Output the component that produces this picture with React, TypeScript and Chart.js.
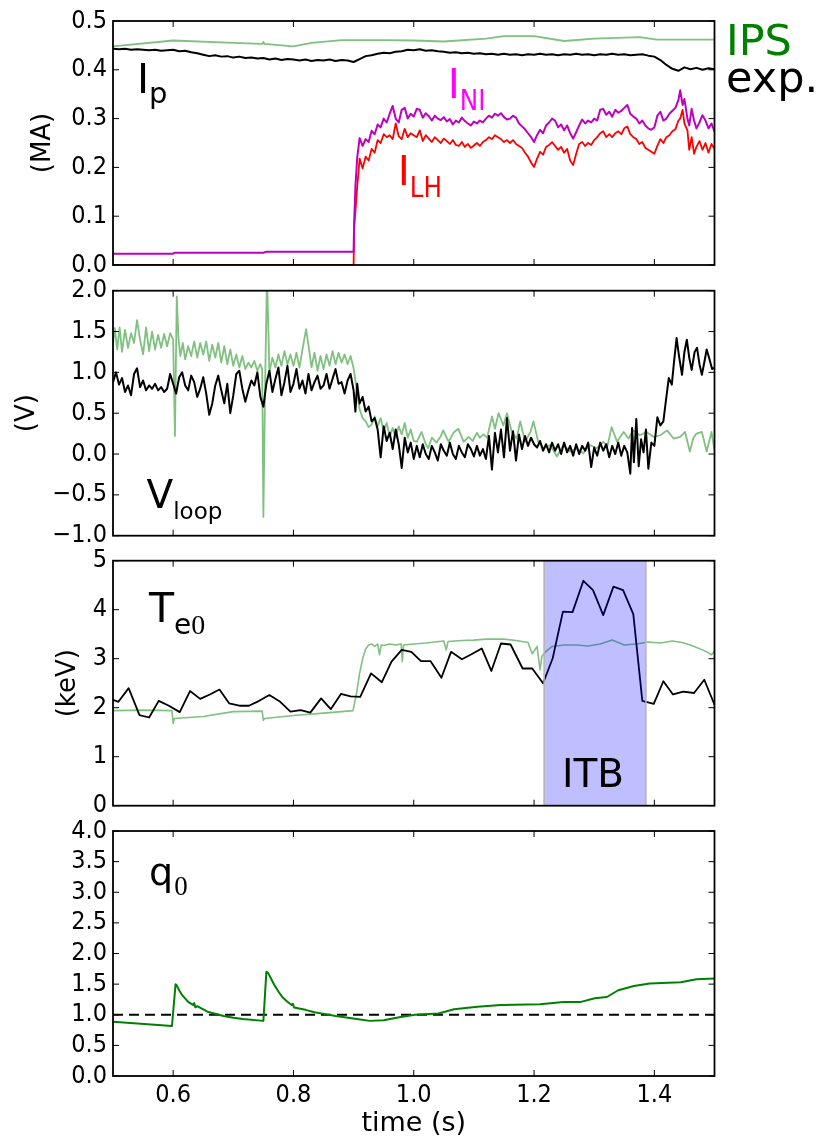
import React, { useEffect, useRef } from "react";
import { Chart, registerables } from "chart.js";

Chart.register(...registerables);

// ---------------- data ----------------
const xTickValues = [0.6, 0.8, 1.0, 1.2, 1.4];
const xTickLabels = ["0.6", "0.8", "1.0", "1.2", "1.4"];

// panel 1 : currents (MA)
const ipYTicks = [0, 0.1, 0.2, 0.3, 0.4, 0.5];
const ipYLabels = ["0.0", "0.1", "0.2", "0.3", "0.4", "0.5"];

const ipsIpTime = [0.5, 0.6, 0.7, 0.748, 0.75, 0.752, 0.8, 0.83, 0.88, 0.95, 1.0, 1.05, 1.12, 1.15, 1.2, 1.25, 1.3, 1.376, 1.404, 1.5];
const ipsIpValues = [0.448, 0.46, 0.455, 0.453, 0.457, 0.453, 0.448, 0.455, 0.461, 0.461, 0.46, 0.458, 0.464, 0.469, 0.469, 0.459, 0.464, 0.467, 0.462, 0.462];

const expIpTime = [
  0.50, 0.51, 0.52, 0.53, 0.54, 0.55, 0.56, 0.57, 0.58, 0.59,
  0.60, 0.61, 0.62, 0.63, 0.64, 0.65, 0.66, 0.67, 0.68, 0.69,
  0.70, 0.71, 0.72, 0.73, 0.74, 0.75, 0.76, 0.77, 0.78, 0.79,
  0.80, 0.81, 0.82, 0.83, 0.84, 0.85, 0.86, 0.87, 0.88, 0.89,
  0.90, 0.91, 0.92, 0.93, 0.94, 0.95, 0.96, 0.97, 0.98, 0.99,
  1.00, 1.01, 1.02, 1.03, 1.04, 1.05, 1.06, 1.07, 1.08, 1.09,
  1.10, 1.11, 1.12, 1.13, 1.14, 1.15, 1.16, 1.17, 1.18, 1.19,
  1.20, 1.21, 1.22, 1.23, 1.24, 1.25, 1.26, 1.27, 1.28, 1.29,
  1.30, 1.31, 1.32, 1.33, 1.34, 1.35, 1.36, 1.37, 1.38, 1.39,
  1.40, 1.41, 1.42, 1.43, 1.44, 1.45, 1.46, 1.47, 1.48, 1.49,
  1.50,
];
const expIpValues = [
  0.443, 0.442, 0.443, 0.441, 0.442, 0.441, 0.440, 0.441, 0.439, 0.440,
  0.441, 0.438, 0.439, 0.436, 0.434, 0.431, 0.428, 0.430, 0.427, 0.428,
  0.425, 0.427, 0.424, 0.425, 0.423, 0.424, 0.421, 0.423, 0.420, 0.422,
  0.421, 0.419, 0.421, 0.418, 0.420, 0.419, 0.421, 0.418, 0.420, 0.419,
  0.416, 0.422, 0.428, 0.430, 0.433, 0.435, 0.434, 0.437, 0.438, 0.441,
  0.440, 0.442, 0.439, 0.440, 0.438, 0.437, 0.435, 0.436, 0.434, 0.435,
  0.433, 0.434, 0.432, 0.433, 0.431, 0.433, 0.431, 0.432, 0.430, 0.432,
  0.431, 0.433, 0.431, 0.432, 0.430, 0.432, 0.431, 0.433, 0.431, 0.432,
  0.430, 0.432, 0.431, 0.433, 0.431, 0.432, 0.430, 0.431, 0.432, 0.429,
  0.427, 0.420, 0.410, 0.402, 0.398, 0.405, 0.401, 0.404, 0.400, 0.403,
  0.401,
];

const niPreTime = [0.5, 0.6, 0.602, 0.75, 0.755, 0.899];
const niPreValues = [0.023, 0.023, 0.025, 0.025, 0.027, 0.027];
const lhPreTime = [0.5, 0.899];
const lhPreValues = [0.0, 0.0];

const cdTime = [
  0.900, 0.901, 0.903, 0.906, 0.910,
  0.915, 0.920, 0.925, 0.930, 0.935, 0.940, 0.945, 0.950, 0.955, 0.960,
  0.965, 0.970, 0.975, 0.980, 0.985, 0.990, 0.995, 1.000, 1.005, 1.010,
  1.015, 1.020, 1.025, 1.030, 1.035, 1.040, 1.045, 1.050, 1.055, 1.060,
  1.065, 1.070, 1.075, 1.080, 1.085, 1.090, 1.095, 1.100, 1.105, 1.110,
  1.115, 1.120, 1.125, 1.130, 1.135, 1.140, 1.145, 1.150, 1.155, 1.160,
  1.165, 1.170, 1.175, 1.180, 1.185, 1.190, 1.195, 1.200, 1.205, 1.210,
  1.215, 1.220, 1.225, 1.230, 1.235, 1.240, 1.245, 1.250, 1.255, 1.260,
  1.265, 1.270, 1.275, 1.280, 1.285, 1.290, 1.295, 1.300, 1.305, 1.310,
  1.315, 1.320, 1.325, 1.330, 1.335, 1.340, 1.345, 1.350, 1.355, 1.360,
  1.365, 1.370, 1.375, 1.380, 1.385, 1.390, 1.395, 1.400, 1.405, 1.410,
  1.415, 1.420, 1.425, 1.430, 1.435,
  1.440, 1.443, 1.447, 1.450, 1.455, 1.458, 1.462, 1.466, 1.470, 1.475,
  1.480, 1.485, 1.490, 1.495, 1.500,
];
const niValues = [
  0.027, 0.09, 0.16, 0.22, 0.26,
  0.244, 0.258, 0.252, 0.275, 0.268, 0.288, 0.282, 0.300, 0.292, 0.310,
  0.326, 0.300, 0.292, 0.318, 0.322, 0.300, 0.310, 0.304, 0.320, 0.318,
  0.302, 0.311, 0.305, 0.296, 0.306, 0.300, 0.297, 0.303, 0.294, 0.299,
  0.288, 0.296, 0.292, 0.302, 0.295, 0.290, 0.286, 0.294, 0.290, 0.296,
  0.292, 0.300, 0.306, 0.302, 0.310, 0.306, 0.311, 0.303, 0.298, 0.300,
  0.306, 0.302, 0.290, 0.284, 0.278, 0.270, 0.262, 0.252, 0.266, 0.277,
  0.270, 0.286, 0.292, 0.300, 0.296, 0.282, 0.288, 0.276, 0.286, 0.270,
  0.259, 0.272, 0.286, 0.298, 0.290, 0.296, 0.292, 0.300, 0.296, 0.318,
  0.320, 0.308, 0.314, 0.304, 0.318, 0.312, 0.316, 0.322, 0.328, 0.310,
  0.304, 0.300, 0.290, 0.296, 0.286, 0.280, 0.277, 0.282, 0.306, 0.314,
  0.296, 0.300, 0.310, 0.316, 0.322,
  0.338, 0.358, 0.328, 0.340, 0.300, 0.286, 0.320, 0.296, 0.280, 0.292,
  0.307, 0.296, 0.280, 0.290, 0.274,
];
const lhValues = [
  0.0, 0.08, 0.11, 0.16, 0.218,
  0.198, 0.222, 0.214, 0.238, 0.230, 0.256, 0.250, 0.268, 0.262, 0.266,
  0.258, 0.290, 0.264, 0.258, 0.279, 0.262, 0.270, 0.266, 0.262, 0.276,
  0.254, 0.266, 0.259, 0.252, 0.262, 0.256, 0.250, 0.259, 0.254, 0.248,
  0.256, 0.246, 0.244, 0.252, 0.242, 0.248, 0.240, 0.245, 0.250, 0.244,
  0.252, 0.256, 0.262, 0.258, 0.266, 0.262, 0.258, 0.252, 0.256, 0.250,
  0.256, 0.248, 0.244, 0.240, 0.230, 0.222, 0.210, 0.201, 0.218, 0.232,
  0.226, 0.242, 0.246, 0.252, 0.244, 0.236, 0.242, 0.230, 0.238, 0.214,
  0.205, 0.228, 0.248, 0.252, 0.244, 0.250, 0.246, 0.256, 0.262, 0.270,
  0.274, 0.262, 0.268, 0.262, 0.270, 0.274, 0.268, 0.280, 0.284, 0.268,
  0.262, 0.258, 0.248, 0.252, 0.240, 0.236, 0.232, 0.228, 0.244, 0.258,
  0.250, 0.262, 0.266, 0.274, 0.278,
  0.296, 0.300, 0.318, 0.290, 0.276, 0.236, 0.262, 0.228, 0.242, 0.254,
  0.236, 0.250, 0.230, 0.248, 0.238,
];

// panel 2 : loop voltage (V)
const vYTicks = [-1, -0.5, 0, 0.5, 1, 1.5, 2];
const vYLabels = ["\u22121.0", "\u22120.5", "0.0", "0.5", "1.0", "1.5", "2.0"];

const expVTime = [
  0.500, 0.505, 0.510, 0.515, 0.520, 0.525, 0.530, 0.535, 0.540, 0.545,
  0.550, 0.555, 0.560, 0.565, 0.570, 0.575, 0.580, 0.585, 0.590, 0.595,
  0.600, 0.605, 0.610, 0.615, 0.620, 0.625, 0.630, 0.635, 0.640, 0.645,
  0.650, 0.655, 0.660, 0.665, 0.670, 0.675, 0.680, 0.685, 0.690, 0.695,
  0.700, 0.705, 0.710, 0.715, 0.720, 0.725, 0.730, 0.735, 0.740, 0.745,
  0.750, 0.755, 0.760, 0.765, 0.770, 0.775, 0.780, 0.785, 0.790, 0.795,
  0.800, 0.805, 0.810, 0.815, 0.820, 0.825, 0.830, 0.835, 0.840, 0.845,
  0.850, 0.855, 0.860, 0.865, 0.870, 0.875, 0.880, 0.885, 0.890, 0.895,
  0.900, 0.903, 0.906, 0.910, 0.915, 0.920, 0.925, 0.930, 0.935, 0.940,
  0.945, 0.950, 0.955, 0.960, 0.965, 0.970, 0.975, 0.980, 0.985, 0.990,
  0.995, 1.000, 1.005, 1.010, 1.015, 1.020, 1.025, 1.030, 1.035, 1.040,
  1.045, 1.050, 1.055, 1.060, 1.065, 1.070, 1.075, 1.080, 1.085, 1.090,
  1.095, 1.100, 1.105, 1.110, 1.115, 1.120, 1.125, 1.130, 1.135, 1.140,
  1.145, 1.150, 1.155, 1.160, 1.165, 1.170, 1.175, 1.180, 1.185, 1.190,
  1.195, 1.200, 1.205, 1.210, 1.215, 1.220, 1.225, 1.230, 1.235, 1.240,
  1.245, 1.250, 1.255, 1.260, 1.265, 1.270, 1.275, 1.280, 1.285, 1.290,
  1.295, 1.300, 1.305, 1.310, 1.315, 1.320, 1.325, 1.330, 1.335, 1.340,
  1.345, 1.350, 1.355, 1.360, 1.363, 1.366, 1.370, 1.374, 1.378, 1.382,
  1.386, 1.390, 1.395, 1.400, 1.405, 1.410, 1.415, 1.420, 1.424, 1.429,
  1.433, 1.437, 1.441, 1.446, 1.450, 1.454, 1.458, 1.462, 1.467, 1.471,
  1.475, 1.479, 1.483, 1.487, 1.491, 1.496, 1.500,
];
const expVValues = [
  0.88, 1.00, 0.85, 0.93, 0.76, 0.84, 0.72, 0.98, 1.05, 0.82,
  0.90, 0.78, 0.84, 0.80, 0.86, 0.78, 0.82, 0.76, 0.80, 0.98,
  0.86, 0.74, 0.94, 1.00, 0.84, 0.78, 0.96, 0.88, 0.70, 0.80,
  0.94, 0.74, 0.48, 0.62, 0.84, 0.96, 0.78, 0.62, 0.86, 0.50,
  0.72, 0.98, 1.02, 0.80, 0.64, 0.78, 0.90, 0.84, 1.00, 0.70,
  0.58, 0.86, 1.02, 0.76, 0.92, 1.06, 0.72, 0.88, 1.08, 0.76,
  0.86, 1.04, 0.80, 0.90, 0.74, 0.98, 0.78, 0.88, 0.96, 0.80,
  0.84, 0.98, 0.80, 0.92, 1.04, 0.86, 0.88, 0.74, 0.90, 0.98,
  0.78, 0.52, 0.86, 0.62, 0.70, 0.52, 0.58, 0.40, 0.44, 0.30,
  -0.04, 0.34, 0.16, 0.26, 0.06, 0.30, 0.12, -0.17, 0.20, 0.02,
  0.14, -0.06, 0.10, -0.04, 0.12, 0.00, -0.06, 0.10, 0.02, -0.08,
  0.12, 0.04, -0.02, 0.14, 0.00, -0.06, 0.10, 0.02, -0.04, 0.12,
  0.06, -0.03, 0.10, -0.02, 0.06, -0.06, 0.22, -0.19, 0.26, 0.02,
  0.30, -0.04, 0.44, 0.04, 0.28, -0.08, 0.24, 0.06, 0.22, 0.10,
  0.20, 0.12, 0.08, 0.16, 0.04, 0.12, 0.02, 0.14, 0.04, 0.12,
  0.00, 0.14, 0.02, 0.10, -0.02, 0.12, 0.00, 0.10, 0.04, 0.14,
  -0.16, 0.08, -0.02, 0.14, 0.04, 0.12, -0.04, 0.10, 0.00, 0.14,
  -0.02, 0.10, 0.02, -0.24, 0.32, -0.10, 0.43, -0.15, 0.18, 0.02,
  0.30, -0.18, 0.14, 0.10, 0.45, 0.35, 0.40, 0.70, 0.93, 0.85,
  1.15, 1.42, 1.20, 0.97, 1.25, 1.40, 1.18, 1.03, 1.25, 1.30,
  1.10, 0.97, 1.12, 1.28, 1.18, 1.04, 1.06,
];

const ipsVTime = [
  0.500, 0.503, 0.507, 0.511, 0.515, 0.520, 0.525, 0.530, 0.535, 0.540,
  0.545, 0.550, 0.555, 0.560, 0.565, 0.570, 0.575, 0.580, 0.585, 0.590,
  0.595, 0.600, 0.603, 0.606, 0.609, 0.612, 0.616, 0.620, 0.625, 0.630,
  0.635, 0.640, 0.645, 0.650, 0.655, 0.660, 0.665, 0.670, 0.675, 0.680,
  0.685, 0.690, 0.695, 0.700, 0.705, 0.710, 0.715, 0.720, 0.725, 0.730,
  0.735, 0.740, 0.745, 0.748, 0.750, 0.753, 0.756, 0.760, 0.765, 0.770,
  0.775, 0.780, 0.785, 0.790, 0.795, 0.800, 0.805, 0.810, 0.815, 0.821,
  0.826, 0.830, 0.835, 0.840, 0.845, 0.850, 0.855, 0.860, 0.865, 0.870,
  0.875, 0.880, 0.885, 0.890, 0.895, 0.900, 0.905, 0.910, 0.915, 0.920,
  0.925, 0.930, 0.935, 0.940, 0.945, 0.950, 0.955, 0.960, 0.965, 0.970,
  0.975, 0.980, 0.985, 0.990, 0.995, 1.000, 1.005, 1.013, 1.020, 1.024,
  1.030, 1.038, 1.045, 1.049, 1.058, 1.066, 1.074, 1.083, 1.091, 1.098,
  1.105, 1.110, 1.116, 1.122, 1.130, 1.135, 1.141, 1.149, 1.155, 1.163,
  1.171, 1.177, 1.185, 1.194, 1.199, 1.207, 1.216, 1.227, 1.238, 1.249,
  1.260, 1.271, 1.282, 1.293, 1.304, 1.315, 1.322, 1.329, 1.338, 1.349,
  1.357, 1.365, 1.376, 1.387, 1.399, 1.410, 1.421, 1.432, 1.443, 1.451,
  1.459, 1.465, 1.470, 1.479, 1.487, 1.495, 1.500,
];
const ipsVValues = [
  1.35, 1.54, 1.28, 1.55, 1.25, 1.52, 1.30, 1.48, 1.36, 1.64,
  1.40, 1.22, 1.55, 1.26, 1.50, 1.28, 1.46, 1.30, 1.47, 1.32,
  1.48, 1.40, 0.22, 1.93, 1.40, 1.20, 1.36, 1.16, 1.32, 1.20,
  1.38, 1.18, 1.36, 1.22, 1.38, 1.14, 1.34, 1.18, 1.36, 1.12,
  1.32, 1.10, 1.28, 1.08, 1.22, 1.06, 1.20, 1.04, 1.12, 1.06,
  1.14, 1.02, 1.10, 1.04, -0.77, 0.90, 2.20, 1.00, 1.18, 1.06,
  1.22, 1.08, 1.26, 1.10, 1.22, 1.08, 1.24, 1.06, 1.28, 1.53,
  1.28, 1.06, 1.24, 1.02, 1.20, 1.04, 1.22, 1.08, 1.26, 1.10,
  1.24, 1.12, 1.22, 1.10, 1.20, 1.05, 0.80, 0.55, 0.44, 0.40,
  0.33, 0.36, 0.46, 0.34, 0.44, 0.28, 0.38, 0.22, 0.32, 0.20,
  0.34, 0.24, 0.38, 0.20, 0.30, 0.16, 0.15, 0.27, 0.12, 0.07,
  0.20, 0.14, 0.22, 0.29, 0.15, 0.26, 0.31, 0.15, 0.21, 0.16,
  0.26, 0.20, 0.24, 0.20, 0.46, 0.31, 0.50, 0.35, 0.50, 0.27,
  0.19, 0.40, 0.15, 0.27, 0.40, 0.15, 0.07, 0.11, -0.03, 0.11,
  0.03, 0.07, 0.01, 0.11, 0.07, 0.15, 0.10, 0.33, 0.15, 0.27,
  0.19, 0.29, 0.23, 0.27, 0.21, 0.23, 0.29, 0.19, 0.21, 0.27,
  0.03, 0.20, 0.25, 0.27, 0.03, 0.27, 0.05,
];

// panel 3 : central electron temperature (keV)
const teYTicks = [0, 1, 2, 3, 4, 5];
const teYLabels = ["0", "1", "2", "3", "4", "5"];

const expTeTime = [
  0.500, 0.509, 0.526, 0.544, 0.560, 0.576, 0.593, 0.611, 0.628, 0.645,
  0.661, 0.677, 0.693, 0.710, 0.726, 0.743, 0.760, 0.778, 0.795, 0.812,
  0.828, 0.846, 0.862, 0.879, 0.895, 0.911, 0.929, 0.947, 0.963, 0.980,
  0.996, 1.012, 1.028, 1.046, 1.062, 1.080, 1.096, 1.113, 1.129, 1.145,
  1.161, 1.181, 1.197, 1.215, 1.231, 1.248, 1.264, 1.282, 1.298, 1.315,
  1.332, 1.348, 1.365, 1.380, 1.399, 1.415, 1.431, 1.448, 1.466, 1.483,
  1.500,
];
const expTeValues = [
  2.16, 2.12, 2.40, 1.85, 1.80, 2.14, 2.04, 1.91, 2.34, 2.18,
  2.27, 2.37, 2.09, 2.04, 2.04, 2.14, 2.26, 2.12, 1.92, 1.95,
  1.90, 2.19, 1.97, 2.28, 2.23, 2.22, 2.70, 2.52, 2.94, 3.18,
  3.14, 2.95, 2.95, 2.61, 3.14, 2.99, 3.09, 3.21, 2.75, 3.31,
  3.29, 2.80, 2.80, 2.50, 3.01, 3.96, 3.95, 4.59, 4.40, 3.89,
  4.47, 4.40, 3.91, 2.14, 2.08, 2.54, 2.27, 2.33, 2.30, 2.57,
  2.06,
];

const ipsTeTime = [
  0.500, 0.550, 0.598, 0.600, 0.602, 0.650, 0.700, 0.748, 0.750, 0.752,
  0.800, 0.850, 0.899, 0.905, 0.910, 0.915, 0.920, 0.925, 0.930, 0.935,
  0.940, 0.943, 0.946, 0.950, 0.960, 0.970, 0.979, 0.981, 0.983, 1.000,
  1.020, 1.050, 1.054, 1.057, 1.080, 1.100, 1.120, 1.150, 1.170, 1.190,
  1.197, 1.205, 1.210, 1.213, 1.220, 1.230, 1.250, 1.270, 1.290, 1.310,
  1.330, 1.350, 1.370, 1.390, 1.410, 1.430, 1.446, 1.460, 1.480, 1.490,
  1.495, 1.500,
];
const ipsTeValues = [
  1.94, 1.95, 1.94, 1.68, 1.78, 1.82, 1.92, 1.93, 1.74, 1.78,
  1.84, 1.89, 1.94, 2.30, 2.70, 3.00, 3.20, 3.28, 3.30, 3.25,
  3.30, 3.08, 3.28, 3.27, 3.30, 3.28, 3.30, 2.94, 3.28, 3.30,
  3.32, 3.36, 3.18, 3.35, 3.37, 3.38, 3.40, 3.40, 3.37, 3.33,
  3.10, 3.25, 2.77, 3.05, 3.15, 3.25, 3.28, 3.28, 3.26, 3.30,
  3.38, 3.28, 3.30, 3.34, 3.32, 3.36, 3.33, 3.28, 3.18, 3.12,
  3.08, 3.15,
];
const itbStart = 1.2167;
const itbEnd = 1.386;

// panel 4 : central safety factor
const qYTicks = [0, 0.5, 1, 1.5, 2, 2.5, 3, 3.5, 4];
const qYLabels = ["0.0", "0.5", "1.0", "1.5", "2.0", "2.5", "3.0", "3.5", "4.0"];

const q0Time = [
  0.500, 0.598, 0.604, 0.606, 0.610, 0.615, 0.625, 0.633, 0.635, 0.637,
  0.640, 0.657, 0.684, 0.700, 0.716, 0.750, 0.755, 0.758, 0.768, 0.775,
  0.781, 0.789, 0.797, 0.799, 0.801, 0.820, 0.835, 0.853, 0.870, 0.885,
  0.905, 0.927, 0.950, 0.976, 1.002, 1.041, 1.067, 1.106, 1.145, 1.210,
  1.249, 1.278, 1.301, 1.321, 1.340, 1.366, 1.392, 1.444, 1.470, 1.500,
];
const q0Values = [
  0.887, 0.816, 1.497, 1.48, 1.40, 1.32, 1.21, 1.16, 1.19, 1.12,
  1.14, 1.05, 0.98, 0.95, 0.93, 0.90, 1.70, 1.68, 1.49, 1.38,
  1.295, 1.22, 1.16, 1.18, 1.12, 1.08, 1.04, 1.01, 0.98, 0.96,
  0.93, 0.90, 0.91, 0.96, 1.00, 1.02, 1.09, 1.13, 1.16, 1.17,
  1.21, 1.21, 1.27, 1.29, 1.40, 1.47, 1.51, 1.53, 1.58, 1.59,
];
const qRefTime = [0.5, 1.5];
const qRefValues = [1, 1];

// ---------------- layout / style ----------------
const W = 818;
const H = 1137;
const PLOT_LEFT = 113;
const PLOT_RIGHT = 714.5;
const FONT = "DejaVu Sans";
const TICK_FONT = "'DejaVu Sans Condensed', 'DejaVu Sans'";
const SERIF = "Liberation Serif";
const IPS_LIGHT = "#80c080";

type Part = { text: string; font: string; dy?: number; dx?: number; scaleX?: number };
type Label = { x: number; y: number; color: string; parts: Part[] };

const pts = (t: number[], v: number[]) => t.map((x, i) => ({ x, y: v[i] }));

const line = (data: any[], color: string, width: number, extra: any = {}) => ({
  data,
  borderColor: color,
  backgroundColor: color,
  borderWidth: width,
  pointRadius: 0,
  fill: false,
  tension: 0,
  borderJoinStyle: "round",
  ...extra,
});

type PanelSpec = {
  top: number;
  bottom: number;
  yMin: number;
  yMax: number;
  yTicks: number[];
  yLabels: string[];
  yTitle?: string;
  yTitleX?: number;
  showX: boolean;
  datasets: any[];
  labels: Label[];
  band?: [number, number];
};

const big = (s: number) => `${s}px ${FONT}`;

const panels: PanelSpec[] = [
  {
    top: 20.7,
    bottom: 265,
    yMin: 0,
    yMax: 0.5,
    yTicks: ipYTicks,
    yLabels: ipYLabels,
    yTitle: "(MA)",
    yTitleX: 43,
    showX: false,
    datasets: [
      line(pts(expIpTime, expIpValues), "#000000", 2),
      line([...pts(niPreTime, niPreValues), ...pts(cdTime, niValues)], "#bf00bf", 2),
      line([...pts(lhPreTime, lhPreValues), ...pts(cdTime, lhValues)], "#ff0000", 1.8),
      line(pts(ipsIpTime, ipsIpValues), IPS_LIGHT, 1.8),
    ],
    labels: [
      { x: 0.5399, y: 0.3517, color: "#000", parts: [{ text: "I", font: big(41) }, { text: "p", font: big(29), dy: 10 }] },
      { x: 1.0565, y: 0.3415, color: "#ff00ff", parts: [{ text: "I", font: big(41) }, { text: "NI", font: big(29), dy: 12, scaleX: 0.85 }] },
      { x: 0.9733, y: 0.1636, color: "#ff0000", parts: [{ text: "I", font: big(41) }, { text: "LH", font: big(29), dy: 12, scaleX: 0.85 }] },
      { x: 1.5191, y: 0.4294, color: "#008000", parts: [{ text: "IPS", font: big(43) }] },
      { x: 1.5191, y: 0.3544, color: "#000", parts: [{ text: "exp.", font: big(43) }] },
    ],
  },
  {
    top: 290.7,
    bottom: 535.7,
    yMin: -1,
    yMax: 2,
    yTicks: vYTicks,
    yLabels: vYLabels,
    yTitle: "(V)",
    yTitleX: 27,
    showX: false,
    datasets: [
      line(pts(expVTime, expVValues), "#000000", 2),
      line(pts(ipsVTime, ipsVValues), IPS_LIGHT, 1.8),
    ],
    labels: [
      { x: 0.5557, y: -0.66, color: "#000", parts: [{ text: "V", font: big(39) }, { text: "loop", font: big(23), dy: 11 }] },
    ],
  },
  {
    top: 560.7,
    bottom: 805.7,
    yMin: 0,
    yMax: 5,
    yTicks: teYTicks,
    yLabels: teYLabels,
    yTitle: "(keV)",
    yTitleX: 68,
    showX: false,
    datasets: [
      line(pts(expTeTime, expTeValues), "#000000", 1.8),
      line(pts(ipsTeTime, ipsTeValues), IPS_LIGHT, 1.6),
    ],
    labels: [
      {
        x: 0.5599,
        y: 3.755,
        color: "#000",
        parts: [
          { text: "T", font: big(41) },
          { text: "e", font: big(28), dy: 12 },
          { text: "0", font: `28px ${SERIF}`, dy: 12 },
        ],
      },
      { x: 1.2465, y: 0.381, color: "#000", parts: [{ text: "ITB", font: big(39) }] },
    ],
    band: [itbStart, itbEnd],
  },
  {
    top: 831,
    bottom: 1076,
    yMin: 0,
    yMax: 4,
    yTicks: qYTicks,
    yLabels: qYLabels,
    showX: true,
    datasets: [
      line(pts(q0Time, q0Values), "#008000", 2),
      line(pts(qRefTime, qRefValues), "#000000", 2, { borderDash: [10, 6] }),
    ],
    labels: [
      { x: 0.5599, y: 3.118, color: "#000", parts: [{ text: "q", font: big(38) }, { text: "0", font: `27px ${SERIF}`, dy: 10, dx: 1 }] },
    ],
  },
];

function makeDecor(spec: PanelSpec) {
  return {
    id: "decor",
    afterDatasetsDraw(chart: any) {
      const { ctx, chartArea: a, scales } = chart;
      const xs = scales.x;
      if (spec.band) {
        const x0 = xs.getPixelForValue(spec.band[0]);
        const x1 = xs.getPixelForValue(spec.band[1]);
        ctx.save();
        ctx.fillStyle = "rgba(0,0,255,0.25)";
        ctx.fillRect(x0, a.top, x1 - x0, a.bottom - a.top);
        ctx.strokeStyle = "#b4b4b4";
        ctx.lineWidth = 1.5;
        ctx.beginPath();
        ctx.moveTo(x0, a.top);
        ctx.lineTo(x0, a.bottom);
        ctx.moveTo(x1, a.top);
        ctx.lineTo(x1, a.bottom);
        ctx.stroke();
        ctx.restore();
      }
    },
    afterDraw(chart: any) {
      const { ctx, chartArea: a, scales } = chart;
      const xs = scales.x;
      const ys = scales.y;
      ctx.save();
      // inward ticks
      ctx.strokeStyle = "#000";
      ctx.lineWidth = 1;
      const TL = 6;
      ctx.beginPath();
      for (const v of xTickValues) {
        const px = xs.getPixelForValue(v);
        ctx.moveTo(px, a.top);
        ctx.lineTo(px, a.top + TL);
        ctx.moveTo(px, a.bottom);
        ctx.lineTo(px, a.bottom - TL);
      }
      for (const v of spec.yTicks) {
        const py = ys.getPixelForValue(v);
        ctx.moveTo(a.left, py);
        ctx.lineTo(a.left + TL, py);
        ctx.moveTo(a.right, py);
        ctx.lineTo(a.right - TL, py);
      }
      ctx.stroke();
      // frame
      ctx.lineWidth = 1.8;
      ctx.strokeRect(a.left, a.top, a.right - a.left, a.bottom - a.top);

      // text labels
      ctx.textAlign = "left";
      ctx.textBaseline = "alphabetic";
      for (const lab of spec.labels) {
        let px = xs.getPixelForValue(lab.x);
        const py = ys.getPixelForValue(lab.y);
        ctx.fillStyle = lab.color;
        for (const p of lab.parts) {
          ctx.font = p.font;
          const sx = p.scaleX ?? 1;
          px += p.dx ?? 0;
          ctx.save();
          ctx.translate(px, py + (p.dy ?? 0));
          ctx.scale(sx, 1);
          ctx.fillText(p.text, 0, 0);
          ctx.restore();
          px += ctx.measureText(p.text).width * sx;
        }
      }

      // y title
      if (spec.yTitle) {
        ctx.save();
        ctx.fillStyle = "#000";
        ctx.font = `26px ${FONT}`;
        ctx.translate(spec.yTitleX ?? 40, (a.top + a.bottom) / 2);
        ctx.rotate(-Math.PI / 2);
        ctx.textAlign = "center";
        ctx.textBaseline = "middle";
        ctx.fillText(spec.yTitle, 0, 0);
        ctx.restore();
      }
      // x title
      if (spec.showX) {
        ctx.fillStyle = "#000";
        ctx.font = `27px ${FONT}`;
        ctx.textAlign = "center";
        ctx.textBaseline = "alphabetic";
        ctx.fillText("time (s)", (a.left + a.right) / 2, 1131);
      }
      ctx.restore();
    },
  };
}

function buildConfig(spec: PanelSpec): any {
  const xScale: any = {
    type: "linear",
    min: 0.5,
    max: 1.5,
    display: spec.showX,
    afterBuildTicks: (s: any) => {
      s.ticks = xTickValues.map((v) => ({ value: v }));
    },
    ticks: {
      callback: (_v: any, i: number) => xTickLabels[i],
      color: "#000",
      font: { family: TICK_FONT, size: 25 },
      padding: 4,
      maxRotation: 0,
      autoSkip: false,
    },
    grid: { display: false, drawTicks: false },
    border: { display: false },
  };
  if (spec.showX) {
    xScale.afterFit = (s: any) => {
      s.height = H - spec.bottom;
    };
  }
  return {
    type: "line",
    data: { datasets: spec.datasets },
    options: {
      responsive: false,
      animation: false,
      events: [],
      devicePixelRatio: 1,
      layout: {
        padding: {
          left: 0,
          right: W - PLOT_RIGHT,
          top: spec.top,
          bottom: spec.showX ? 0 : H - spec.bottom,
        },
      },
      plugins: { legend: { display: false }, tooltip: { enabled: false } },
      scales: {
        x: xScale,
        y: {
          type: "linear",
          min: spec.yMin,
          max: spec.yMax,
          afterFit: (s: any) => {
            s.width = PLOT_LEFT;
          },
          afterBuildTicks: (s: any) => {
            s.ticks = spec.yTicks.map((v) => ({ value: v }));
          },
          ticks: {
            callback: (_v: any, i: number) => spec.yLabels[i],
            color: "#000",
            font: { family: TICK_FONT, size: 25 },
            padding: 6,
            autoSkip: false,
          },
          grid: { display: false, drawTicks: false },
          border: { display: false },
        },
      },
    },
    plugins: [makeDecor(spec)],
  };
}

function Panel({ spec }: { spec: PanelSpec }) {
  const ref = useRef<HTMLCanvasElement>(null);
  useEffect(() => {
    if (!ref.current) return;
    const chart = new Chart(ref.current, buildConfig(spec));
    return () => chart.destroy();
  }, [spec]);
  return (
    <canvas
      ref={ref}
      width={W}
      height={H}
      style={{ position: "absolute", left: 0, top: 0, width: W, height: H }}
    />
  );
}

export default function App() {
  return (
    <div
      style={{
        position: "absolute",
        left: 0,
        top: 0,
        width: W,
        height: H,
        background: "#ffffff",
        overflow: "hidden",
      }}
    >
      {panels.map((p, i) => (
        <Panel key={i} spec={p} />
      ))}
    </div>
  );
}
